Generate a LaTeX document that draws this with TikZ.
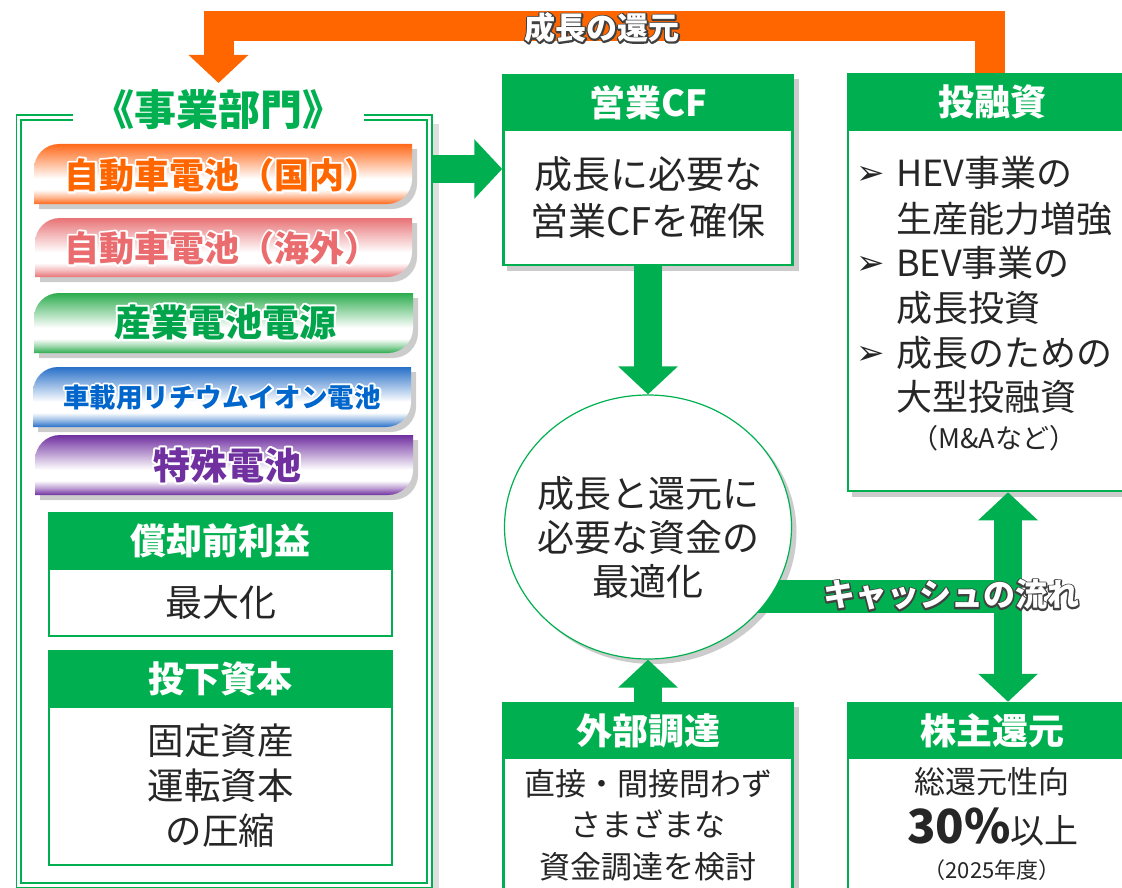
\documentclass[tikz,border=0pt]{standalone}
\usepackage{fontspec}
\setmainfont{Noto Sans CJK JP}
\newfontfamily\dvs{DejaVu Sans}
\usetikzlibrary{arrows.meta,shapes.geometric}
\definecolor{mygreen}{RGB}{0,176,80}
\definecolor{myorange}{RGB}{255,102,0}
\definecolor{txt}{RGB}{38,38,38}
\definecolor{c1}{RGB}{255,105,25}
\definecolor{c2}{RGB}{232,115,118}
\definecolor{c3}{RGB}{45,172,78}
\definecolor{c4}{RGB}{40,112,200}
\definecolor{c5}{RGB}{112,48,160}
\definecolor{t1}{RGB}{255,102,0}
\definecolor{t2}{RGB}{234,108,110}
\definecolor{t3}{RGB}{0,165,75}
\definecolor{t4}{RGB}{0,102,204}
\definecolor{t5}{RGB}{112,48,160}
\pgfdeclarelayer{bg}
\pgfsetlayers{bg,main}
\newcommand\setfs[2]{\fontsize{#1}{#2}\selectfont}
% glow: stroked copy (colour #1 as rgb 0..1, width #2) behind the filled text #3
\newcommand\glowtext[3]{\rlap{\special{pdf:literal direct #1 RG #2 w 1 j 1 Tr}#3\special{pdf:literal direct 0 Tr}}#3}
\newcommand\battbar[6]{%
 \pgfdeclareverticalshading{#6}{100bp}{color(0bp)=(#5); color(25bp)=(#5); color(31bp)=(#5!45!white); color(37bp)=(white); color(46bp)=(white); color(62bp)=(#5!55!white); color(75bp)=(#5); color(100bp)=(#5)}%
 \fill[black,opacity=0.2] (#1+5,#4+5) -- (#1+5,#3+30) arc (180:270:25) -- (#2+5,#3+5) -- (#2+5,#4-20) arc (0:90:25) -- cycle;
 \shade[shading=#6] (#1,#4) -- (#1,#3+25) arc (180:270:25) -- (#2,#3) -- (#2,#4-25) arc (0:90:25) -- cycle;
}
\tikzset{
 hdr/.style={draw=mygreen, fill=mygreen, line width=2.5pt, text=white, font=\bfseries\setfs{36}{40}, inner sep=0pt, minimum height=55pt},
 bod/.style={draw=mygreen, fill=white, line width=2.5pt, text=txt, inner sep=0pt, align=center},
 garrow/.style={draw=mygreen, line width=28pt, -{Triangle[length=28pt,width=58pt]}},
 bartext/.style={inner sep=0pt, font=\bfseries\setfs{35}{35}},
 plain/.style={inner sep=0pt, text=txt, align=center},
 shd/.style={fill=black, opacity=0.2},
 lst/.style={inner sep=0pt, text=txt, anchor=west, font=\setfs{36}{36}},
 bul/.style={inner sep=0pt, text=txt, font=\dvs\setfs{34}{34}}
}
\begin{document}
\begin{tikzpicture}[x=1pt,y=-1pt]
\begin{pgfonlayer}{bg}
 \fill[white] (0,0) rectangle (1122,888);
\end{pgfonlayer}
\useasboundingbox (0,0) rectangle (1122,888);

% business frame
\begin{pgfonlayer}{bg}
 \fill[black,opacity=0.13] (432.5,124) rectangle (439,888);
\end{pgfonlayer}
\draw[mygreen, double=white, double distance=3pt, line width=1.6pt, line join=miter]
  (73,117.5) -- (18.7,117.5) -- (18.7,885.5) -- (429.5,885.5) -- (429.5,117.5) -- (364,117.5);
\node[inner sep=0pt, font=\bfseries\setfs{42}{42}, text=mygreen] (title) at (218.5,110) {《事業部門》};

% battery bars
\battbar{34}{412}{144}{204}{c1}{shA}
\battbar{35}{412}{218}{277}{c2}{shB}
\battbar{34}{413}{293}{353}{c3}{shC}
\battbar{33}{411}{367}{427}{c4}{shD}
\battbar{35}{413}{435}{495}{c5}{shE}
\node[bartext, text=t1] (bar1) at (222,175) {\glowtext{1 1 1}{4}{自動車電池（国内）}};
\node[bartext, text=t2] (bar2) at (222,248) {\glowtext{1 1 1}{4}{自動車電池（海外）}};
\node[bartext, text=t3, font=\bfseries\setfs{37}{37}] (bar3) at (225,322) {\glowtext{1 1 1}{4}{産業電池電源}};
\node[bartext, text=t4, font=\bfseries\setfs{26.5}{26.5}] (bar4) at (222,397) {\glowtext{1 1 1}{3.5}{車載用リチウムイオン電池}};
\node[bartext, text=t5, font=\bfseries\setfs{37}{37}] (bar5) at (227,465) {\glowtext{1 1 1}{4}{特殊電池}};

% left boxes
\node[bod, minimum width=343pt, minimum height=67pt, font=\setfs{37}{37}] (shob) at (220.5,602.5) {最大化};
\node[hdr, minimum width=343pt, minimum height=56pt] (shoh) at (220.5,541) {償却前利益};
\node[bod, minimum width=343pt, minimum height=158pt, font=\setfs{36.5}{45}] (tob) at (220.5,786) {固定資産\\運転資本\\の圧縮};
\node[hdr, minimum width=343pt, minimum height=56pt] (toh) at (220.5,679) {投下資本};

% operating CF box
\node[bod, minimum width=289pt, minimum height=135pt, font=\setfs{38}{47}] (cfb) at (648,197.5) {成長に必要な\\営業CFを確保};
\node[hdr, minimum width=289pt] (cfh) at (648,102.5) {営業CF};

% investment box
\node[bod, minimum width=288pt, minimum height=361pt] (tyub) at (992,310.5) {};
\node[hdr, minimum width=288pt, minimum height=56pt] (tyuh) at (992,102) {投融資};
\node[bul] (ar1) at (871,175) {➢};
\node[bul] (ar2) at (871,265) {➢};
\node[bul] (ar3) at (871,355) {➢};
\node[lst] (l1) at (896,173) {HEV事業の};
\node[lst] (l2) at (896,219) {生産能力増強};
\node[lst] (l3) at (896,263) {BEV事業の};
\node[lst] (l4) at (896,308) {成長投資};
\node[lst] (l5) at (896,353) {成長のための};
\node[lst] (l6) at (896,397) {大型投融資};
\node[plain, font=\setfs{27}{27}] (l7) at (994,438) {（M\&Aなど）};

% central ellipse
\node[ellipse, draw=mygreen, line width=1.2pt, fill=white, minimum width=287pt, minimum height=264pt, inner sep=0pt] (opt) at (648,527) {};
\node[plain, font=\setfs{37}{44}] (optt) at (648,537) {成長と還元に\\必要な資金の\\最適化};

% external finance box
\node[bod, minimum width=289pt, minimum height=134pt, font=\setfs{31}{41.5}] (gaib) at (648,825) {直接・間接問わず\\さまざまな\\資金調達を検討};
\node[hdr, minimum width=289pt] (gaih) at (648,730.5) {外部調達};

% shareholder return box
\node[bod, minimum width=288pt, minimum height=134pt] (kabb) at (992,825) {};
\node[hdr, minimum width=288pt] (kabh) at (992,730.5) {株主還元};
\node[plain, font=\setfs{31}{31}] (k1) at (992,782) {総還元性向};
\node[plain] (k2) at (993,827) {{\bfseries\setfs{47}{47}30\%}{\setfs{34}{34}以上}};
\node[plain, font=\setfs{22}{22}] (k3) at (992,870) {（2025年度）};

% shadows
\begin{pgfonlayer}{bg}
 \fill[shd] ([shift={(5,5)}]cfh.north west) rectangle ([shift={(5,5)}]cfb.south east);
 \fill[shd] ([shift={(5,5)}]tyuh.north west) rectangle ([shift={(5,5)}]tyub.south east);
 \fill[shd] ([shift={(5,5)}]gaih.north west) rectangle ([shift={(5,5)}]gaib.south east);
 \fill[shd] ([shift={(5,5)}]kabh.north west) rectangle ([shift={(5,5)}]kabb.south east);
 \fill[shd] ([shift={(5,5)}]opt.center) ellipse [x radius=143.5, y radius=132];
 \draw[mygreen, line width=33pt] (opt.center |- 0,596.5) -- (1022,596.5);
\end{pgfonlayer}

% arrows
\coordinate (frameR) at (432,169);
\draw[garrow] (frameR) -- (cfb.west |- frameR);
\draw[garrow] (cfb.south) -- (cfb.south |- opt.north);
\draw[garrow] (gaih.north) -- (gaih.north |- opt.south);
\draw[mygreen, line width=28.5pt, {Triangle[length=28pt,width=58pt]}-{Triangle[length=28pt,width=58pt]}]
  ([xshift=16pt]tyub.south) -- ([xshift=16pt]kabh.north);
\node[inner sep=0pt, text=white, font=\bfseries\setfs{32}{32}] (cash) at (951,595) {\glowtext{0.25 0.25 0.25}{3}{キャッシュの流れ}};

\coordinate (ret) at (218.5,83);
\draw[myorange, line width=30pt, line join=miter, -{Triangle[length=28pt,width=58pt]}]
  ([xshift=-2pt]tyuh.north) -- ++(0,-46.5) -| (ret);
\node[inner sep=0pt, text=white, font=\bfseries\setfs{31}{31}] (retl) at (602,28) {\glowtext{0.25 0.25 0.25}{3}{成長の還元}};
\end{tikzpicture}
\end{document}
